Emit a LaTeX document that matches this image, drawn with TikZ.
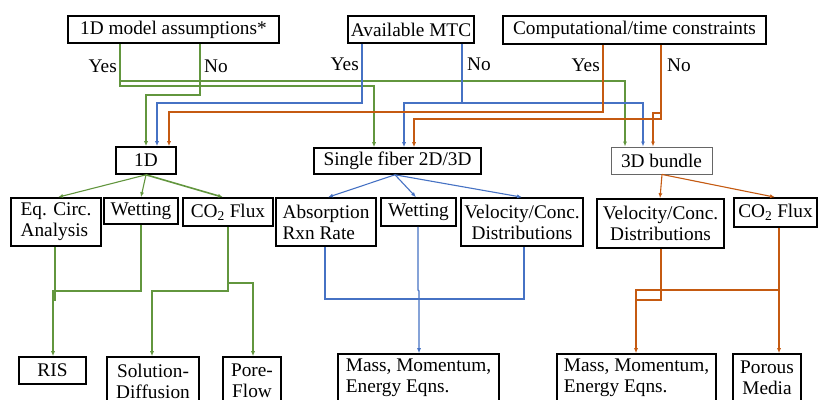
\documentclass[tikz,border=0pt]{standalone}
\usepackage{fontspec}
\setmainfont{Liberation Serif}
\usetikzlibrary{arrows.meta}
\definecolor{cgreen}{RGB}{98,150,62}
\definecolor{cblue}{RGB}{70,114,196}
\definecolor{corange}{RGB}{197,90,17}
\tikzset{
  txt/.style={font=\fontsize{19.3}{21}\selectfont},
  bx/.style={draw=black, line width=1.6pt, inner sep=0pt, txt},
  bxthin/.style={draw=black!60, line width=0.9pt, inner sep=0pt, txt},
  lbl/.style={inner sep=0pt, txt},
  gl/.style={draw=cgreen, line width=1.1pt},
  bl/.style={draw=cblue, line width=1.1pt},
  ol/.style={draw=corange, line width=1.1pt},
  tip/.style={-{Latex[length=5pt,width=4pt]}}
}
\begin{document}
\begin{tikzpicture}[x=1pt,y=-1pt]
\clip (0,0) rectangle (818,399);
\fill[white] (0,0) rectangle (818,399);
% top row
\node[bx, minimum width=211, minimum height=27] (top1) at (173.5,29.5) {1D model assumptions*};
\node[bx, minimum width=126, minimum height=27] (top2) at (411,29.5) {Available MTC};
\node[bx, minimum width=263, minimum height=28] (top3) at (634.5,30) {Computational/time constraints};
% middle row
\node[bx, minimum width=60, minimum height=27] (mid1) at (146,160.5) {1D};
\node[bx, minimum width=167, minimum height=26] (mid2) at (397.5,161) {Single fiber 2D/3D};
\node[bxthin, minimum width=101, minimum height=27] (mid3) at (661.5,160.5) {3D bundle};
% third row
\node[bx, minimum width=90, minimum height=48, align=left] (eq) at (56,222) {Eq. Circ.\\Analysis};
\node[bx, minimum width=74, minimum height=26] (wet1) at (141,211) {Wetting};
\node[bx, minimum width=90, minimum height=28] (co2a) at (228,212) {CO\textsubscript{2} Flux};
\node[bx, minimum width=100, minimum height=48, align=left] (abs) at (326,222) {Absorption\\Rxn Rate};
\node[bx, minimum width=75, minimum height=28] (wet2) at (418.5,212) {Wetting};
\node[bx, minimum width=122, minimum height=48, align=center] (vel1) at (522,222) {Velocity/Conc.\\Distributions};
\node[bx, minimum width=127, minimum height=49, align=center] (vel2) at (660.5,223.5) {Velocity/Conc.\\Distributions};
\node[bx, minimum width=83, minimum height=29] (co2b) at (775.5,212.5) {CO\textsubscript{2} Flux};
% bottom row
\node[bx, minimum width=67, minimum height=27] (ris) at (52.5,370.5) {RIS};
\node[bx, minimum width=92, minimum height=48, align=center] (sol) at (153,381) {Solution-\\Diffusion};
\node[bx, minimum width=58, minimum height=48, align=center] (pore) at (252,381) {Pore-\\Flow};
\node[bx, minimum width=161, minimum height=48, align=left] (mass1) at (418.5,378) {Mass, Momentum,\\Energy Eqns.};
\node[bx, minimum width=159, minimum height=48, align=left] (mass2) at (636.5,378) {Mass, Momentum,\\Energy Eqns.};
\node[bx, minimum width=68, minimum height=48, align=center] (por) at (767,378) {Porous\\Media};
% Yes / No labels
\node[lbl, anchor=east] (y1) at (117,66) {Yes};
\node[lbl, anchor=west] (n1) at (204,66) {No};
\node[lbl, anchor=east] (y2) at (359,64) {Yes};
\node[lbl, anchor=west] (n2) at (467,64) {No};
\node[lbl, anchor=east] (y3) at (600,65) {Yes};
\node[lbl, anchor=west] (n3) at (667,65) {No};
% green decision lines
\draw[gl,tip] (120,0 |- top1.south) -- (120,86) -| (374,0 |- mid2.north);
\draw[gl,tip] (120,81) -| (625,0 |- mid3.north);
\draw[gl,tip] (200,0 |- top1.south) -- (200,95) -| (mid1.north);
% blue decision lines
\draw[bl,tip] (362,0 |- top2.south) -- (362,103) -| (157,0 |- mid1.north);
\draw[bl,tip] (462,0 |- top2.south) -- (462,103) -| (404,0 |- mid2.north);
\draw[bl,tip] (462,103) -| (643,0 |- mid3.north);
% orange decision lines
\draw[ol,tip] (603,0 |- top3.south) -- (603,112) -| (169,0 |- mid1.north);
\draw[ol,tip] (661,0 |- top3.south) -- (661,119) -| (414,0 |- mid2.north);
\draw[ol,tip] (661,113) -- (653,113) -- (653,0 |- mid3.north);
% middle to third row
\draw[gl,tip] (mid1.south) -- (58,0 |- eq.north);
\draw[gl,tip] (mid1.south) -- (wet1.north);
\draw[gl,tip,line width=1.6pt] (mid1.south) -- (223,0 |- co2a.north);
\draw[bl,tip] (395,0 |- mid2.south) -- (328,0 |- abs.north);
\draw[bl,tip] (395,0 |- mid2.south) -- (416,0 |- wet2.north);
\draw[bl,tip] (395,0 |- mid2.south) -- (vel1.north);
\draw[ol,tip] (662,0 |- mid3.south) -- (660,0 |- vel2.north);
\draw[ol,tip] (662,0 |- mid3.south) -- (775,0 |- co2b.north);
% third row to bottom: green
\draw[gl] (55,0 |- eq.south) -- (55,300) -- (53,300);
\draw[gl,tip] (141,0 |- wet1.south) -- (141,291) -| (53,0 |- ris.north);
\draw[gl,tip] (228,0 |- co2a.south) -- (228,291) -| (152,0 |- sol.north);
\draw[gl,tip] (228,283) -| (253,0 |- pore.north);
% blue
\draw[bl] (325,0 |- abs.south) -- (325,299) -| (524,0 |- vel1.south);
\draw[bl,tip] (418,0 |- wet2.south) -- (418,290) -- (419,291) -- (419,0 |- mass1.north);
% orange
\draw[ol] (661,0 |- vel2.south) -- (661,300) -- (636,300) -- (636,290);
\draw[ol,tip] (779,0 |- co2b.south) -- (779,0 |- por.north);
\draw[ol,tip] (779,290) -| (636,0 |- mass2.north);
\end{tikzpicture}
\end{document}
